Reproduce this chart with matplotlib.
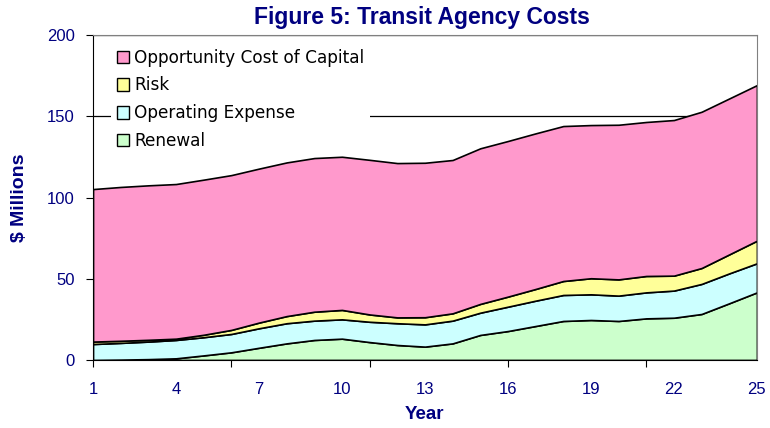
import numpy as np
import matplotlib.pyplot as plt
from matplotlib import font_manager

# Data ($ millions)
years = list(range(1, 26))
renewal = [0, 0.2, 0.5, 1, 2.8, 4.7, 7.5, 10.2, 12.3, 13.1, 11, 9.2, 8.2,
           10.2, 15.4, 17.8, 20.9, 24, 24.6, 24, 25.6, 26, 28.3, 34.9, 41.6]
operating = [9.8, 10.3, 10.8, 11.3, 11.2, 11.3, 12, 12.4, 11.9, 11.9, 12.5, 13.4, 13.7,
             14, 13.7, 15, 15.6, 16, 15.8, 15.6, 16, 16.7, 18.5, 18.4, 17.9]
risk = [1.5, 1.3, 1.1, 0.8, 1.5, 2.5, 3.5, 4.4, 5.5, 5.8, 4.5, 3.6, 4.4,
        4.5, 5.4, 6.2, 7.2, 8.6, 9.9, 10, 10.1, 9.2, 9.8, 11.7, 13.9]
opportunity = [93.9, 94.7, 95.1, 95.2, 95.5, 95.3, 94.8, 94.6, 94.6, 94.3, 95.2, 95, 95.1,
               94.4, 95.8, 95.8, 95.8, 95.4, 94.3, 95.2, 94.8, 95.8, 96.2, 96, 95.8]
series_names = ["Renewal", "Operating Expense", "Risk", "Opportunity Cost of Capital"]
colors = ["#CCFFCC", "#CCFFFF", "#FFFF99", "#FF99CC"]
x_labels = [1, 4, 7, 10, 13, 16, 19, 22, 25]

names = {f.name for f in font_manager.fontManager.ttflist}
narrow = "Liberation Sans Narrow" if "Liberation Sans Narrow" in names else "Liberation Sans"
navy = "#000080"

fig = plt.figure(figsize=(7.7, 4.28), dpi=100)
ax = fig.add_axes([0.1208, 0.159, 0.8622, 0.759])

ax.grid(axis="y", color="black", linewidth=0.9, zorder=0)
ax.set_axisbelow(True)

ax.stackplot(years, renewal, operating, risk, opportunity,
             colors=colors, labels=series_names,
             edgecolor="black", linewidth=1.2, zorder=2)

ax.set_xlim(1, 25)
ax.set_ylim(0, 200)
ax.set_yticks([0, 50, 100, 150, 200])
ax.tick_params(axis="y", labelsize=12, labelcolor=navy, direction="out",
               length=5, pad=8)
for lab in ax.get_yticklabels():
    lab.set_fontfamily(narrow)

# Excel-style category axis: tick marks every 5, labels every 3
ax.xaxis.remove_overlapping_locs = False
ax.set_xticks([1, 6, 11, 16, 21])
ax.set_xticklabels([])
ax.tick_params(axis="x", which="major", direction="out", length=5)
ax.set_xticks(x_labels, minor=True)
ax.set_xticklabels([str(v) for v in x_labels], minor=True, fontsize=12,
                   color=navy, fontfamily=narrow)
ax.tick_params(axis="x", which="minor", length=0, pad=16)

for side in ["top", "right"]:
    ax.spines[side].set_color("#808080")
for side in ["left", "bottom"]:
    ax.spines[side].set_color("black")

ax.set_xlabel("Year", fontsize=13.5, fontweight="bold", color=navy,
              fontfamily=narrow, labelpad=6)
ax.set_ylabel("$ Millions", fontsize=14, fontweight="bold", color=navy,
              fontfamily=narrow, labelpad=14)
fig.suptitle("Figure 5: Transit Agency Costs", x=0.548, y=0.985,
             fontsize=16.5, fontweight="bold", color=navy, fontfamily=narrow)

handles, labels = ax.get_legend_handles_labels()
leg = ax.legend(handles[::-1], labels[::-1], loc="upper left",
                bbox_to_anchor=(0.015, 1.0), frameon=True, fancybox=False,
                edgecolor="none", facecolor="white", framealpha=1,
                fontsize=12.2, handlelength=0.75, handleheight=0.75,
                handletextpad=0.3, labelspacing=0.58, borderpad=0.3)
for h in leg.legend_handles:
    h.set_edgecolor("black")
    h.set_linewidth(1.0)
leg.set_zorder(5)

fig.savefig("out.png", dpi=100)
